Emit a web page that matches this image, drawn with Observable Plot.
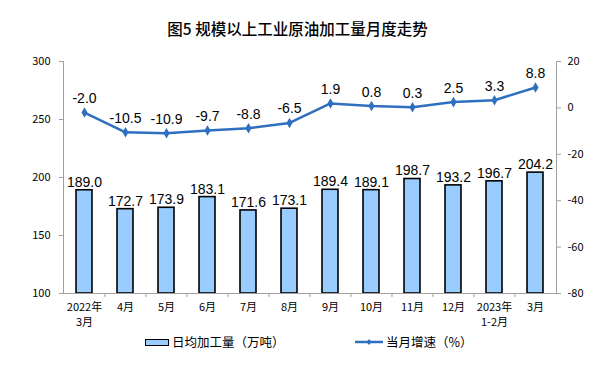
<!DOCTYPE html>
<html>
<head>
<meta charset="utf-8">
<script src="https://cdn.jsdelivr.net/npm/d3@7"></script>
<script src="https://cdn.jsdelivr.net/npm/@observablehq/plot@0.6"></script>
<style>
  html, body { margin: 0; padding: 0; background: #fff; }
  #wrap { width: 595px; height: 372px; position: relative; font-family: "Noto Sans CJK SC", "Noto Sans", sans-serif; }
  #title { height: 45px; line-height: 56px; text-align: center; font-size: 15.5px; color: #000; font-weight: 500; }
  #legend { position: absolute; left: 0; top: 333px; width: 595px; height: 18px; font-size: 12.5px; color: #000; }
  .item { position: absolute; top: 0; height: 18px; line-height: 18px; display: flex; align-items: center; }
  .sw-bar { width: 22px; height: 5px; background: #99CCFF; border: 1.5px solid #000; margin-right: 3px; }
  .sw-line { width: 28px; height: 18px; margin-right: 3px; }
</style>
</head>
<body>
<div id="wrap">
  <div id="title">图5 规模以上工业原油加工量月度走势</div>
  <div id="chart"></div>
  <div id="legend">
    <div class="item" style="left:145px"><div class="sw-bar"></div><span>日均加工量（万吨）</span></div>
    <div class="item" style="left:355px"><svg class="sw-line" viewBox="0 0 28 18"><line x1="0" y1="9" x2="28" y2="9" stroke="#2F6FC0" stroke-width="2.5"/><path d="M14 6 L16.5 9 L14 12 L11.5 9 Z" fill="#2F6FC0"/></svg><span>当月增速（%）</span></div>
  </div>
</div>
<script>
const categories = ["2022年\n3月", "4月", "5月", "6月", "7月", "8月", "9月", "10月", "11月", "12月", "2023年\n1-2月", "3月"];
const output = [189.0, 172.7, 173.9, 183.1, 171.6, 173.1, 189.4, 189.1, 198.7, 193.2, 196.7, 204.2];
const growth = [-2.0, -10.5, -10.9, -9.7, -8.8, -6.5, 1.9, 0.8, 0.3, 2.5, 3.3, 8.8];
const leftTicks = [100, 150, 200, 250, 300];
const rightTicks = [-80, -60, -40, -20, 0, 20];

// right axis (-80..20) mapped onto left axis (100..300)
const toLeft = v => 100 + (v + 80) * 2;
const fromLeft = y => (y - 100) / 2 - 80;

const data = categories.map((c, i) => ({cat: c, out: output[i], g: growth[i], gy: toLeft(growth[i])}));

const W = 595, ML = 63, MR = 39;
const step = (W - ML - MR) / categories.length;
const lineColor = "#2F6FC0";
const axisGrey = "#A0A0A0";
const labelFont = "'Liberation Sans', Arial, sans-serif";

const chart = Plot.plot({
  width: W,
  height: 288,
  marginTop: 16,
  marginBottom: 40,
  marginLeft: ML,
  marginRight: MR,
  style: {fontFamily: "'Noto Sans CJK SC', 'Noto Sans', sans-serif", fontSize: "11px", color: "#000", background: "#fff"},
  x: {domain: categories, paddingInner: 0.6, paddingOuter: 0.3},
  y: {domain: [100, 300]},
  marks: [
    Plot.barY(data, {x: "cat", y1: 100, y2: "out", fill: "#99CCFF", stroke: "#000", strokeWidth: 1.6}),
    Plot.text(data, {x: "cat", y: "out", text: d => d.out.toFixed(1), dy: -8, fontSize: 14, fontFamily: labelFont, fill: "#000"}),
    Plot.line(data, {x: "cat", y: "gy", stroke: lineColor, strokeWidth: 2.5}),
    Plot.dot(data, {x: "cat", y: "gy", symbol: "diamond", r: 3.2, fill: lineColor}),
    Plot.text(data, {x: "cat", y: "gy", text: d => d.g.toFixed(1), dy: -14, fontSize: 14, fontFamily: labelFont, fill: "#000"}),
    Plot.ruleY([100], {stroke: axisGrey}),
    Plot.ruleX(categories.slice(1), {x: d => d, dx: -step / 2, y1: 100, y2: 100, insetBottom: -4, stroke: axisGrey}),
    Plot.frame({anchor: "left", stroke: axisGrey}),
    Plot.frame({anchor: "right", stroke: axisGrey}),
    Plot.axisY(leftTicks, {anchor: "left", tickSize: 4, tickPadding: 9, stroke: axisGrey, fill: "#000", label: null}),
    Plot.axisY(rightTicks.map(toLeft), {anchor: "right", tickSize: 4, tickPadding: 7, tickFormat: fromLeft, stroke: axisGrey, fill: "#000", label: null}),
    Plot.axisX({tickSize: 0, tickPadding: 7, lineHeight: 1.35, label: null, fill: "#000"})
  ]
});
document.getElementById("chart").appendChild(chart);
</script>
</body>
</html>
